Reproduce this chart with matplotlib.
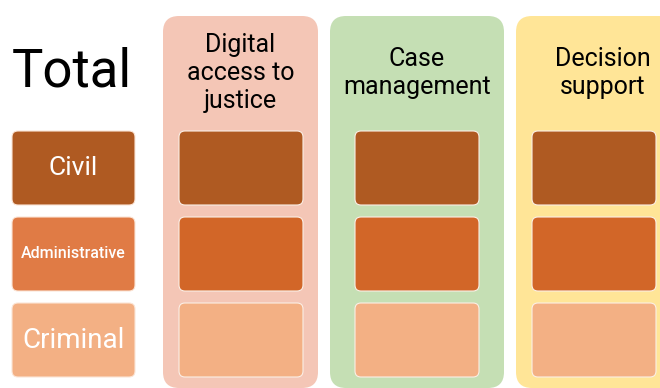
import matplotlib.pyplot as plt
from matplotlib.patches import FancyBboxPatch

# rows (case types) and columns (technology areas)
rows = ['Civil', 'Administrative', 'Criminal']
row_font = [19, 11.5, 20]
row_weight = ['normal', 'medium', 'normal']
columns = ['Digital\naccess to\njustice', 'Case\nmanagement', 'Decision\nsupport']

label_colors = ['#AF5A22', '#E07B45', '#F3B084']
cell_colors = ['#AF5A22', '#D26628', '#F3B084']
panel_colors = ['#F4C6B6', '#C5DFB4', '#FFE597']

fig = plt.figure(figsize=(6.6, 3.88), dpi=100)
ax = fig.add_axes([0, 0, 1, 1])
ax.set_xlim(0, 660)
ax.set_ylim(388, 0)
ax.axis('off')

font = ['Roboto', 'DejaVu Sans']

row_top = [131, 217, 303]
row_h = 74

# left legend column
ax.text(72, 72, 'Total', fontsize=38, family=font, ha='center', va='center')
for i, name in enumerate(rows):
    ax.add_patch(FancyBboxPatch((12, row_top[i]), 123, row_h,
                                boxstyle='round,pad=0,rounding_size=6',
                                fc=label_colors[i], ec='#FBE5D6', lw=0.8))
    ax.text(73.5, row_top[i] + row_h / 2, name, color='white', family=font,
            fontsize=row_font[i], ha='center', va='center', weight=row_weight[i])

# panels
panel_x = [163, 330, 516]
panel_w = [155, 174, 174]
cell_x = [179, 355, 532]
for j, title in enumerate(columns):
    ax.add_patch(FancyBboxPatch((panel_x[j], 16), panel_w[j], 372,
                                boxstyle='round,pad=0,rounding_size=16',
                                fc=panel_colors[j], ec='none'))
    ax.text(panel_x[j] + panel_w[j] / 2, 73, title, fontsize=18, family=font,
            ha='center', va='center', linespacing=1.2)
    for i in range(len(rows)):
        ax.add_patch(FancyBboxPatch((cell_x[j], row_top[i]), 124, row_h,
                                    boxstyle='round,pad=0,rounding_size=6',
                                    fc=cell_colors[i], ec='#FBEFE6', lw=0.8))

fig.savefig('out.png', dpi=100)
